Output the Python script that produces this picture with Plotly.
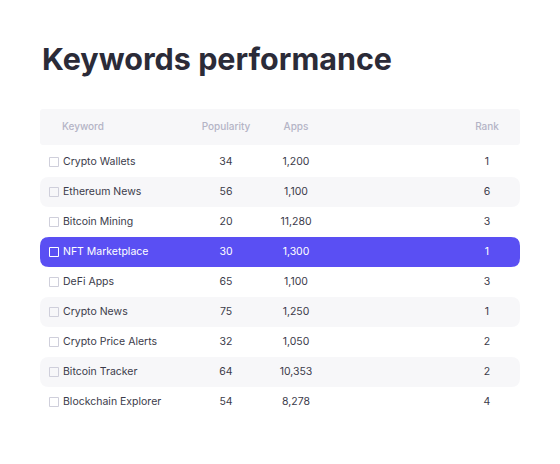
import plotly.graph_objects as go

keywords = ["Crypto Wallets", "Ethereum News", "Bitcoin Mining", "NFT Marketplace", "DeFi Apps",
            "Crypto News", "Crypto Price Alerts", "Bitcoin Tracker", "Blockchain Explorer"]
popularity = [34, 56, 20, 30, 65, 75, 32, 64, 54]
apps = [1200, 1100, 11280, 1300, 1100, 1250, 1050, 10353, 8278]
rank = [1, 6, 3, 1, 3, 1, 2, 2, 4]
headers = ["Keyword", "Popularity", "Apps", "Rank"]
highlight = 3

W, H = 560, 464
OX, OY = 8, 7  # page offset compensation
ROW0, STEP = 161, 30
HY = (126 - ROW0) / STEP
yr = [(H + OY - ROW0) / STEP, (OY - ROW0) / STEP]
FONT = "Inter, Noto Sans, sans-serif"
TXT, HDR, HL = "#3b3b4a", "#b4b4c6", "#5a4ff3"

def rrect(x0, x1, yc, h, r, color):
    ry = r / STEP
    y0, y1 = yc - h / 2, yc + h / 2
    p = (f"M {x0+r},{y0} L {x1-r},{y0} Q {x1},{y0} {x1},{y0+ry} L {x1},{y1-ry} "
         f"Q {x1},{y1} {x1-r},{y1} L {x0+r},{y1} Q {x0},{y1} {x0},{y1-ry} "
         f"L {x0},{y0+ry} Q {x0},{y0} {x0+r},{y0} Z")
    return dict(type="path", path=p, xref="x", yref="y", fillcolor=color, line_width=0, layer="below")

shapes = [rrect(40, 520, HY, 36 / STEP, 3, "#f7f7f9")]
for i in range(len(keywords)):
    if i == highlight:
        shapes.append(rrect(40, 520, i, 1.0, 9, HL))
    elif i % 2 == 1:
        shapes.append(rrect(40, 520, i, 1.0, 9, "#f7f7f9"))

rows = list(range(len(keywords)))
colors = ["white" if i == highlight else TXT for i in rows]
fig = go.Figure()
fig.add_trace(go.Scatter(x=[54]*len(rows), y=rows, mode="markers",
                         marker=dict(symbol="square-open", size=9,
                                     color=["white" if i == highlight else "#cfcfdb" for i in rows],
                                     line=dict(width=1)), hoverinfo="skip"))
fig.add_trace(go.Scatter(x=[63]*len(rows), y=rows, mode="text", text=keywords, textposition="middle right",
                         textfont=dict(family=FONT, size=10.5, color=colors), hoverinfo="skip"))
for xpos, vals in [(226, [str(v) for v in popularity]), (296, [f"{v:,}" for v in apps]), (487, [str(v) for v in rank])]:
    fig.add_trace(go.Scatter(x=[xpos]*len(rows), y=rows, mode="text", text=vals, textposition="middle center",
                             textfont=dict(family=FONT, size=10.5, color=colors), hoverinfo="skip"))
fig.add_trace(go.Scatter(x=[62, 226, 296, 487], y=[HY]*4, mode="text", text=headers,
                         textposition=["middle right", "middle center", "middle center", "middle center"],
                         textfont=dict(family=FONT, size=10, color=HDR, weight=500), hoverinfo="skip"))

fig.add_annotation(x=40, y=(57 - ROW0) / STEP, xref="x", yref="y", text="<b>Keywords performance</b>",
                   showarrow=False, xanchor="left", yanchor="middle",
                   font=dict(family=FONT, size=30.5, color="#2b2b38"))

fig.update_layout(width=W, height=H, margin=dict(l=0, r=0, t=0, b=0), showlegend=False,
                  plot_bgcolor="white", paper_bgcolor="white", shapes=shapes,
                  xaxis=dict(range=[OX, W + OX], visible=False, fixedrange=True),
                  yaxis=dict(range=yr, visible=False, fixedrange=True))
fig.write_html("out.html", config={"displayModeBar": False})
